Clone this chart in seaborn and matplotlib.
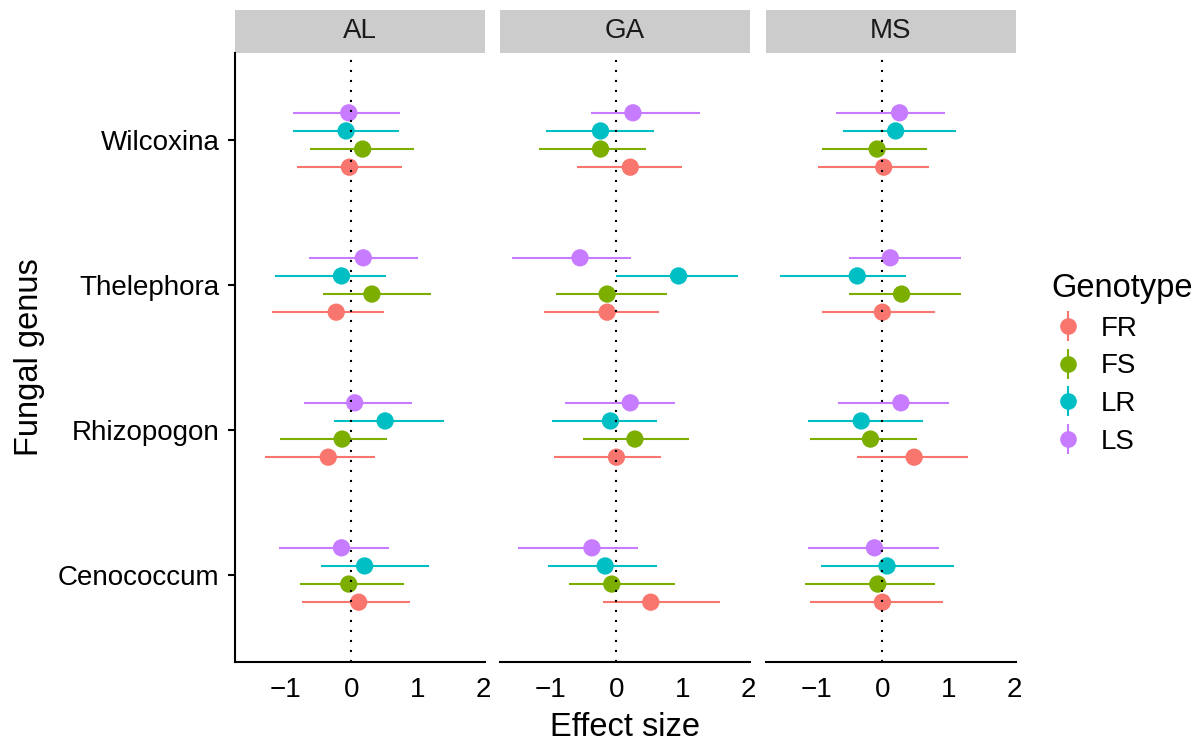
import matplotlib
matplotlib.use("Agg")
import matplotlib.pyplot as plt
from matplotlib.lines import Line2D
from matplotlib.patches import Rectangle
import numpy as np
import pandas as pd
import seaborn as sns

# Categories
genera = ["Cenococcum", "Rhizopogon", "Thelephora", "Wilcoxina"]
genotypes = ["FR", "FS", "LR", "LS"]
sites = ["AL", "GA", "MS"]
palette = ["#F8766D", "#7CAE00", "#00BFC4", "#C77CFF"]

# Effect sizes and interval limits: rows = genotype (FR, FS, LR, LS),
# columns = genus (Cenococcum, Rhizopogon, Thelephora, Wilcoxina)
al_est = [[0.11, -0.35, -0.23, -0.03],
          [-0.04, -0.14, 0.31, 0.17],
          [0.20, 0.51, -0.15, -0.08],
          [-0.15, 0.05, 0.18, -0.04]]
al_lo = [[-0.75, -1.30, -1.20, -0.82],
         [-0.77, -1.08, -0.43, -0.63],
         [-0.46, -0.26, -1.15, -0.88],
         [-1.10, -0.72, -0.64, -0.88]]
al_hi = [[0.88, 0.36, 0.50, 0.76],
         [0.80, 0.54, 1.21, 0.95],
         [1.18, 1.40, 0.53, 0.72],
         [0.57, 0.91, 1.00, 0.73]]

ga_est = [[0.52, 0.00, -0.14, 0.21],
          [-0.07, 0.28, -0.14, -0.24],
          [-0.17, -0.09, 0.94, -0.24],
          [-0.37, 0.21, -0.55, 0.25]]
ga_lo = [[-0.21, -0.94, -1.09, -0.60],
         [-0.72, -0.50, -0.91, -1.17],
         [-1.03, -0.98, 0.00, -1.06],
         [-1.49, -0.78, -1.58, -0.38]]
ga_hi = [[1.56, 0.68, 0.64, 0.99],
         [0.89, 1.10, 0.76, 0.45],
         [0.61, 0.62, 1.84, 0.57],
         [0.33, 0.88, 0.22, 1.26]]

ms_est = [[0.00, 0.48, 0.00, 0.02],
          [-0.07, -0.18, 0.29, -0.08],
          [0.07, -0.32, -0.38, 0.20],
          [-0.12, 0.28, 0.12, 0.26]]
ms_lo = [[-1.10, -0.39, -0.92, -0.98],
         [-1.17, -1.10, -0.50, -0.92],
         [-0.93, -1.12, -1.55, -0.59],
         [-1.13, -0.67, -0.51, -0.70]]
ms_hi = [[0.92, 1.30, 0.79, 0.70],
         [0.79, 0.53, 1.19, 0.67],
         [1.08, 0.62, 0.36, 1.12],
         [0.86, 1.01, 1.19, 0.95]]

site_tables = {"AL": (al_est, al_lo, al_hi),
               "GA": (ga_est, ga_lo, ga_hi),
               "MS": (ms_est, ms_lo, ms_hi)}

# Long table with dodged vertical positions (dodge width 0.5)
dodge_width = 0.5
rows = []
for site in sites:
    est, lo, hi = site_tables[site]
    for gi, gt in enumerate(genotypes):
        offset = (gi - (len(genotypes) - 1) / 2) * dodge_width / len(genotypes)
        for ki, genus in enumerate(genera):
            rows.append(dict(Site=site, Genotype=gt, Genus=genus,
                             est=est[gi][ki], lo=lo[gi][ki], hi=hi[gi][ki],
                             ypos=ki + offset))
df = pd.DataFrame(rows)

sns.set_style("white")
plt.rcParams["font.family"] = ["Liberation Sans", "DejaVu Sans"]
plt.rcParams["axes.unicode_minus"] = True
plt.rcParams["text.color"] = "black"
plt.rcParams["axes.labelcolor"] = "black"

W, H = 1204, 744
fig = plt.figure(figsize=(W / 100, H / 100), dpi=100)

panel_left = [235, 500, 766]
panel_w = 250
top_px, bot_px = 53, 662
strip_h = 43

tick_fs = 20
title_fs = 23.5
line_w = 1.5
color_map = dict(zip(genotypes, palette))

for i, site in enumerate(sites):
    ax = fig.add_axes([panel_left[i] / W, 1 - bot_px / H,
                       panel_w / W, (bot_px - top_px) / H])
    sub = df[df.Site == site]
    ax.hlines(sub.ypos, sub.lo, sub.hi,
              colors=[color_map[g] for g in sub.Genotype],
              linewidth=1.5, zorder=2)
    sns.scatterplot(data=sub, x="est", y="ypos", hue="Genotype",
                    hue_order=genotypes, palette=palette, s=155,
                    edgecolor="none", linewidth=0, legend=False,
                    ax=ax, zorder=3)
    ax.axvline(0, color="black", linewidth=1.5,
               linestyle=(0, (1, 3.8)), zorder=4)

    ax.set_xlim(-1.76, 2.02)
    ax.set_ylim(-0.6, len(genera) - 0.4)
    ax.set_xticks([-1, 0, 1, 2])
    ax.set_xticklabels(["\u22121", "0", "1", "2"])
    ax.set_xlabel("")
    ax.set_ylabel("")
    ax.tick_params(axis="x", length=5, width=line_w, color="black",
                   labelsize=tick_fs, pad=6, labelcolor="black")
    for s in ["top", "right"]:
        ax.spines[s].set_visible(False)
    ax.spines["bottom"].set_linewidth(line_w)
    ax.spines["bottom"].set_color("black")
    if i == 0:
        ax.set_yticks(range(len(genera)))
        ax.set_yticklabels(genera)
        ax.tick_params(axis="y", length=5, width=line_w, color="black",
                       labelsize=tick_fs, pad=6, labelcolor="black", left=True)
        ax.spines["left"].set_linewidth(line_w)
        ax.spines["left"].set_color("black")
    else:
        ax.set_yticks([])
        ax.spines["left"].set_visible(False)

    # facet strip
    sh = strip_h / (bot_px - top_px)
    ax.add_patch(Rectangle((0, 1), 1, sh, transform=ax.transAxes,
                           facecolor="#CCCCCC", edgecolor="none",
                           clip_on=False, zorder=1))
    ax.text(0.5, 1 + sh / 2, site, transform=ax.transAxes,
            ha="center", va="center", fontsize=tick_fs, color="#1A1A1A")

# shared axis titles
fig.text((235 + 1016) / 2 / W, 1 - 727 / H, "Effect size",
         ha="center", va="center", fontsize=title_fs)
fig.text(30 / W, 1 - 357 / H, "Fungal genus", rotation=90,
         ha="center", va="center", fontsize=title_fs)

# legend: point with a vertical bar through it
handles = [(Line2D([], [], color=c, marker="|", markersize=21,
                   markeredgewidth=1.5, linestyle="none"),
            Line2D([], [], color=c, marker="o", markersize=12,
                   markeredgewidth=0, linestyle="none"))
           for c in palette]
leg = fig.legend(handles, genotypes, title="Genotype",
                 loc="upper left", bbox_to_anchor=(1040 / W, 1 - 262 / H),
                 frameon=False, fontsize=tick_fs, title_fontsize=title_fs,
                 handlelength=1.2, handletextpad=0.6, labelspacing=0.42,
                 borderaxespad=0, alignment="left")

fig.savefig("out.png", dpi=100)
